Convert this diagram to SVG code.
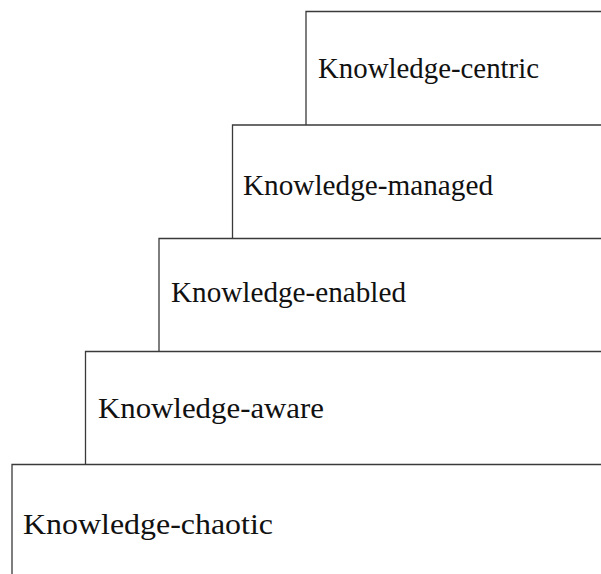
<svg xmlns="http://www.w3.org/2000/svg" width="601" height="574" viewBox="0 0 601 574">
<style>
.s{fill:none;stroke:#3a3a3a;stroke-width:1.3}
.t{font-family:"Liberation Serif","DejaVu Serif",serif;font-size:29.5px;fill:#111}
</style>
<rect width="601" height="574" fill="#fff"/>
<g id="centric"><polyline class="s" points="306,125 306,11.5 601,11.5"/><text class="t" x="318" y="78" textLength="221" lengthAdjust="spacingAndGlyphs">Knowledge-centric</text></g>
<g id="managed"><polyline class="s" points="232.5,238 232.5,125 601,125"/><text class="t" x="243" y="195" textLength="250" lengthAdjust="spacingAndGlyphs">Knowledge-managed</text></g>
<g id="enabled"><polyline class="s" points="159,351 159,238.5 601,238.5"/><text class="t" x="171" y="302" textLength="235" lengthAdjust="spacingAndGlyphs">Knowledge-enabled</text></g>
<g id="aware"><polyline class="s" points="85.5,464 85.5,351.5 601,351.5"/><text class="t" x="98" y="418" textLength="226" lengthAdjust="spacingAndGlyphs">Knowledge-aware</text></g>
<g id="chaotic"><polyline class="s" points="12,574 12,464.5 601,464.5"/><text class="t" x="23" y="534" textLength="250" lengthAdjust="spacingAndGlyphs">Knowledge-chaotic</text></g>
</svg>
